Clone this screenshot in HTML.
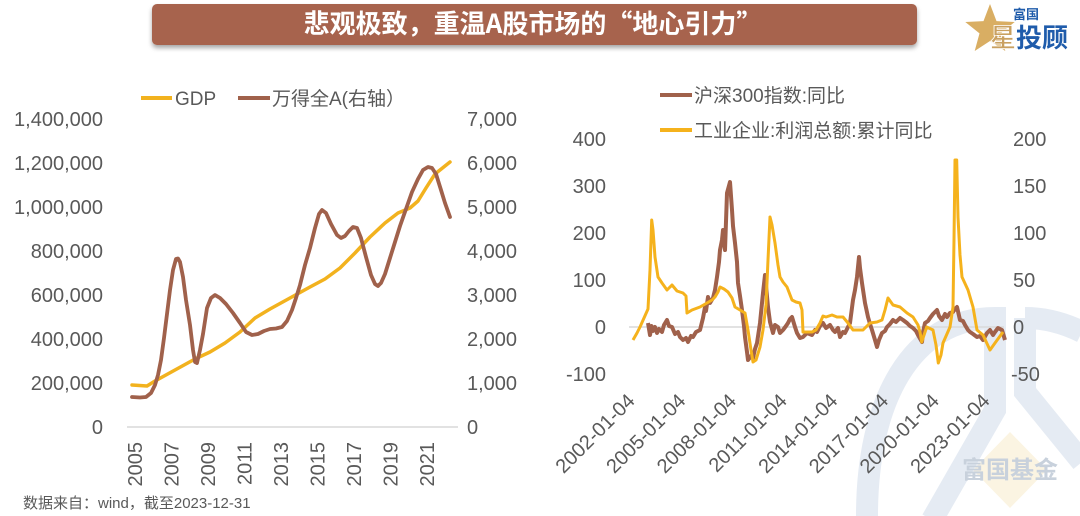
<!DOCTYPE html>
<html><head><meta charset="utf-8"><style>
html,body{margin:0;padding:0;background:#fff;}
svg{display:block;}
text{font-family:"Liberation Sans","Noto Sans CJK SC",sans-serif;}
</style></head><body>
<svg width="1080" height="516" viewBox="0 0 1080 516" xmlns="http://www.w3.org/2000/svg">
<defs>
<filter id="sh" x="-5%" y="-40%" width="110%" height="200%"><feDropShadow dx="0" dy="3" stdDeviation="2.5" flood-color="#000" flood-opacity="0.35"/></filter>
</defs>
<rect width="1080" height="516" fill="#fff"/>

<!-- watermark -->
<g fill="none" stroke="#E5EBF3" stroke-width="22">
<path d="M867 520 C 866 400, 912 318, 995 318 L 995 410 L 932 520"/>
<path d="M1025 318 L 1025 392 L 1082 462"/>
<path d="M1025 318 C 1048 318, 1066 324, 1082 332"/>
</g>
<polygon points="1010,432 1047,470 1010,508 973,470" fill="#FBF4E2"/>
<text x="1010" y="478" text-anchor="middle" font-size="24" font-weight="bold" fill="#C8D1DC" style="font-family:'Noto Sans CJK SC',sans-serif">富国基金</text>

<!-- title banner -->
<rect x="152" y="4" width="765" height="41" rx="5" fill="#A7644D" filter="url(#sh)"/>
<text x="533" y="33" text-anchor="middle" font-size="26" font-weight="bold" fill="#fff" style="font-family:'Noto Sans CJK SC',sans-serif">悲观极致，重温A股市场的“地心引力”</text>

<!-- logo -->
<polygon points="990,4 996.5,21.1 1014.7,22 1000.5,33.4 1005.3,51 990,41 974.7,51 979.5,33.4 965.3,22 983.5,21.1" fill="#D9AE63"/>
<text x="1013" y="19" font-size="13" font-weight="bold" fill="#1F5CAB" style="font-family:'Noto Sans CJK SC',sans-serif">富国</text>
<text x="990" y="47" font-size="26" font-weight="bold" style="font-family:'Noto Sans CJK SC',sans-serif"><tspan fill="#C9A060" stroke="#fff" stroke-width="0.8">星</tspan><tspan fill="#1F5CAB">投顾</tspan></text>

<!-- LEFT CHART -->
<g font-size="20" fill="#595959">
<text x="103" y="126" text-anchor="end">1,400,000</text>
<text x="103" y="170" text-anchor="end">1,200,000</text>
<text x="103" y="214" text-anchor="end">1,000,000</text>
<text x="103" y="258" text-anchor="end">800,000</text>
<text x="103" y="302" text-anchor="end">600,000</text>
<text x="103" y="346" text-anchor="end">400,000</text>
<text x="103" y="390" text-anchor="end">200,000</text>
<text x="103" y="434" text-anchor="end">0</text>
<text x="467" y="126">7,000</text>
<text x="467" y="170">6,000</text>
<text x="467" y="214">5,000</text>
<text x="467" y="258">4,000</text>
<text x="467" y="302">3,000</text>
<text x="467" y="346">2,000</text>
<text x="467" y="390">1,000</text>
<text x="467" y="434">0</text>
</g>
<line x1="127" y1="427" x2="458" y2="427" stroke="#D9D9D9" stroke-width="1.5"/>
<g font-size="20" fill="#595959" text-anchor="end">
<text transform="translate(142,442) rotate(-90)">2005</text>
<text transform="translate(178.5,442) rotate(-90)">2007</text>
<text transform="translate(215,442) rotate(-90)">2009</text>
<text transform="translate(251.5,442) rotate(-90)">2011</text>
<text transform="translate(288,442) rotate(-90)">2013</text>
<text transform="translate(324.5,442) rotate(-90)">2015</text>
<text transform="translate(361,442) rotate(-90)">2017</text>
<text transform="translate(397.5,442) rotate(-90)">2019</text>
<text transform="translate(434,442) rotate(-90)">2021</text>
</g>
<!-- left legend -->
<line x1="141" y1="98" x2="172" y2="98" stroke="#F2B21E" stroke-width="4"/>
<text x="175" y="105" font-size="19" fill="#595959">GDP</text>
<line x1="238" y1="98" x2="270" y2="98" stroke="#A0614B" stroke-width="4"/>
<text x="272" y="105" font-size="19" fill="#595959">万得全A(右轴）</text>

<polyline fill="none" stroke="#F2B21E" stroke-width="3.5" stroke-linejoin="round" stroke-linecap="round" points="132,385 147,386 155,381 175,370 195,359 210,352 225,343 240,332 255,318 270,309 290,298 310,287 325,279 340,268 355,253 370,237 385,223 398,213 410,208 418,201 426,188 435,174 450,162"/>
<polyline fill="none" stroke="#A0614B" stroke-width="3.8" stroke-linejoin="round" stroke-linecap="round" points="132,397 140,397.5 146,397 151,393 155,385 158,375 161,360 164,338 167,314 170,290 173,270 176,259 178,258.5 180,262 183,277 186,300 190,325 193,350 195,362 197,363 200,350 203,334 207,308 211,298 215,295 220,298 226,304 233,313 240,323 246,332 252,335 258,334 264,331 270,329 276,328.5 282,327 287,321 292,310 296,298 300,285 305,265 310,248 315,228 319,214 322,210 326,213 331,224 337,235 341,238 345,236 349,231 353,227 357,228 361,238 366,257 371,275 375,284 378,286 381,283 385,274 390,258 395,242 400,226 406,209 412,192 418,179 423,170 428,167 432,168 436,174 441,190 445,203 450,217"/>

<!-- source -->
<text x="23" y="508" font-size="15" fill="#595959">数据来自：wind，截至2023-12-31</text>

<!-- RIGHT CHART -->
<g font-size="20" fill="#595959">
<text x="606" y="146" text-anchor="end">400</text>
<text x="606" y="193" text-anchor="end">300</text>
<text x="606" y="240" text-anchor="end">200</text>
<text x="606" y="287" text-anchor="end">100</text>
<text x="606" y="334" text-anchor="end">0</text>
<text x="606" y="381" text-anchor="end">-100</text>
<text x="1013" y="146">200</text>
<text x="1013" y="193">150</text>
<text x="1013" y="240">100</text>
<text x="1013" y="287">50</text>
<text x="1013" y="334">0</text>
<text x="1011" y="381">-50</text>
</g>
<line x1="629" y1="327" x2="1004" y2="327" stroke="#D9D9D9" stroke-width="1.5"/>
<g font-size="20" fill="#595959" text-anchor="end">
<text transform="translate(636,402) rotate(-45)">2002-01-04</text>
<text transform="translate(686.7,402) rotate(-45)">2005-01-04</text>
<text transform="translate(737.4,402) rotate(-45)">2008-01-04</text>
<text transform="translate(788.1,402) rotate(-45)">2011-01-04</text>
<text transform="translate(838.8,402) rotate(-45)">2014-01-04</text>
<text transform="translate(889.5,402) rotate(-45)">2017-01-04</text>
<text transform="translate(940.2,402) rotate(-45)">2020-01-04</text>
<text transform="translate(990.9,402) rotate(-45)">2023-01-04</text>
</g>
<!-- right legend -->
<line x1="660" y1="95" x2="692" y2="95" stroke="#A0614B" stroke-width="4"/>
<text x="694" y="102" font-size="19" fill="#595959">沪深300指数:同比</text>
<line x1="660" y1="130" x2="692" y2="130" stroke="#F5B21C" stroke-width="4"/>
<text x="694" y="137" font-size="19" fill="#595959">工业企业:利润总额:累计同比</text>

<polyline fill="none" stroke="#A0614B" stroke-width="4" stroke-linejoin="round" points="648,323 650,335 651.5,326 653,331 655,327 657,333 659,329 662,332 664,325 667,320 669,326 672,327 675,334 678,332 680,337 683,340 686,338 688,342 691,336 693,337 696,332 700,330 702,322 703,318 705,307 706,311 708,297 710,303 713,298 715,290 717,277 719,262 720,250 722,240 723,230 725,250 727,193 730,182 732,210 733,226 735,243 737,262 738,283 740,296 742,310 744,326 745,337 747,352 748,360 751,356 753,358 755,349 757,343 760,323 763,293 765,275 768,307 770,322 773,333 775,325 778,327 780,333 783,330 786,326 788,323 790,319 792,317 795,327 797,333 800,338 803,337 807,333 812,335 815,330 817,332 820,326 823,323 826,328 830,325 833,330 835,332 838,328 840,337 843,332 845,333 848,327 850,323 853,300 855,290 857,277 859,257 860,268 862,283 865,303 868,317 870,324 872,330 875,340 877,347 879,340 882,333 885,331 887,327 890,324 893,320 896,322 900,318 903,320 907,323 910,326 913,328 916,331 918,335 922,342 923,332 925,323 928,321 930,318 933,314 937,310 939,316 942,320 945,314 947,317 950,313 953,312 955,309 957,307 960,320 963,321 965,325 968,330 970,332 973,334 977,337 980,336 983,340 987,333 990,330 993,335 995,332 998,328 1002,330 1005,340"/>
<polyline fill="none" stroke="#F5B21C" stroke-width="3" stroke-linejoin="round" points="633,340 637,333 640,327 644,318 648,309 650,270 651.7,220 653,230 655,257 658,277 662,283 667,290 672,285 677,291 683,293 686,296 687,313 692,310 700,307 707,303 712,300 715,297 718,292 720,287 724,289 728,292 732,298 735,307 740,310 745,313 748,330 751,350 753,362 756,360 760,347 763,330 766,305 768,260 770,217 772,225 775,243 778,265 780,277 783,282 787,287 792,300 796,302 800,303 802,310 803,332 808,332 812,332 816,330 820,323 823,316 826,317 832,315 837,317 843,317 848,323 853,330 858,330 863,330 870,323 877,322 882,320 885,310 888,298 893,305 900,307 907,313 913,317 918,325 920,332 921.7,342 926.7,327 933,330 936,345 938.3,363 941,355 943,343 950,327 953,307 954,240 955,160 956.7,160 958,217 960,255 962,277 968,290 973,307 977,330 983,335 990,350 995,343 1003,332"/>
</svg>
</body></html>
